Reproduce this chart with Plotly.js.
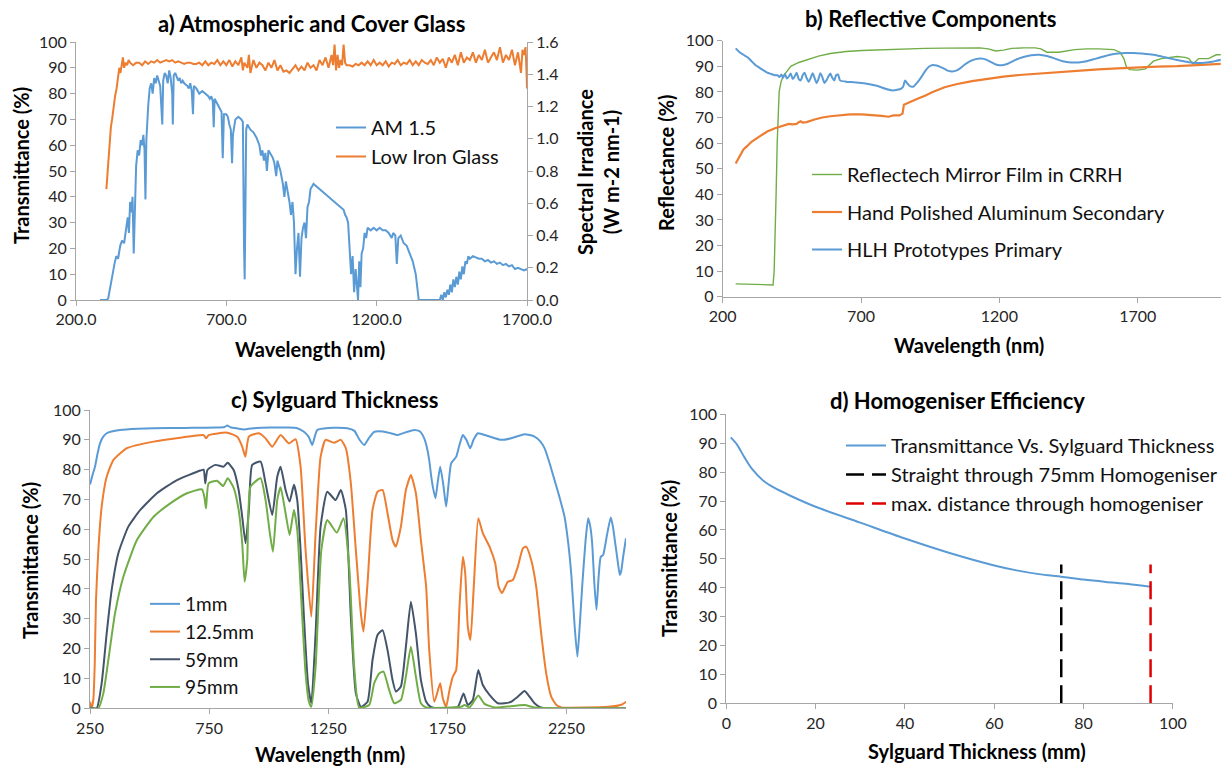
<!DOCTYPE html>
<html><head><meta charset="utf-8">
<script src="https://cdn.plot.ly/plotly-3.0.1.min.js"></script>
<style>html,body{margin:0;padding:0;background:#fff}#chart{width:1226px;height:767px}</style>
</head><body><div id="chart"></div>
<script>
// ---------- Panel a: Atmospheric and Cover Glass ----------
const amWavelength = [280,300,307,315,321,328,334,340,347,353,
360,366,372,376,380,385,388,392,396,400,
405,410,415,420,424,428,431,434,440,445,
450,455,460,465,470,475,480,487,490,495,
500,505,510,515,520,522,525,530,535,540,
545,550,555,560,570,575,580,585,589,592,
600,610,620,630,640,645,650,655,658,661,
670,680,684,688,692,700,705,710,715,719,
722,730,740,750,755,759,761,763,766,770,
780,790,800,810,815,820,825,830,835,840,
845,850,855,860,866,870,880,888,893,898,
905,910,915,920,925,930,935,940,945,950,
955,960,965,970,975,980,985,990,1000,1010,
1020,1030,1040,1050,1060,1070,1080,1090,1095,1100,
1105,1110,1115,1120,1125,1130,1135,1138,1142,1146,
1150,1155,1160,1165,1170,1180,1190,1200,1210,1220,
1230,1240,1250,1255,1262,1267,1272,1280,1290,1300,
1310,1320,1330,1336,1340,1345,1400,1410,1415,1420,
1425,1430,1435,1440,1445,1450,1455,1460,1465,1470,
1475,1480,1485,1490,1495,1500,1505,1510,1520,1530,
1540,1550,1560,1570,1580,1590,1600,1610,1620,1630,
1640,1650,1660,1670,1680,1690,1700];
const amIrradiance = [0,0,0.008,0.096,0.16,0.224,0.272,0.256,0.336,0.368,
0.352,0.448,0.512,0.416,0.608,0.544,0.64,0.288,0.64,0.832,
0.928,0.896,0.992,0.96,1.024,0.928,0.624,0.992,1.2,1.312,
1.344,1.28,1.376,1.344,1.392,1.36,1.328,1.088,1.36,1.408,
1.392,1.344,1.424,1.376,1.28,1.088,1.392,1.408,1.376,1.36,
1.376,1.344,1.36,1.344,1.328,1.312,1.344,1.296,1.152,1.328,
1.312,1.28,1.296,1.28,1.264,1.248,1.264,1.232,1.072,1.248,
1.216,1.184,1.168,0.88,1.152,1.152,1.136,1.088,1.056,0.848,
1.024,1.12,1.136,1.12,1.104,0.32,0.128,0.48,1.056,1.088,
1.056,1.04,1.008,0.96,0.896,0.928,0.864,0.912,0.8,0.928,
0.912,0.896,0.88,0.848,0.768,0.864,0.8,0.72,0.64,0.736,
0.672,0.608,0.528,0.608,0.48,0.16,0.32,0.416,0.144,0.384,
0.448,0.48,0.384,0.576,0.608,0.688,0.704,0.72,0.704,0.688,
0.672,0.656,0.64,0.624,0.608,0.592,0.576,0.56,0.528,0.512,
0.48,0.32,0.16,0.272,0.048,0.192,0.096,0,0.24,0.08,
0.288,0.32,0.416,0.384,0.448,0.432,0.448,0.432,0.448,0.432,
0.432,0.416,0.384,0.416,0.4,0.224,0.384,0.4,0.352,0.336,
0.288,0.24,0.16,0.08,0,0,0,0,0.032,0,
0.048,0.016,0.064,0.032,0.096,0.048,0.128,0.08,0.144,0.096,
0.176,0.128,0.208,0.16,0.24,0.224,0.272,0.256,0.272,0.264,
0.256,0.256,0.24,0.248,0.232,0.24,0.224,0.232,0.216,0.224,
0.208,0.216,0.192,0.2,0.192,0.184,0.192];

const glassWavelength = [301,305,308,312,316,320,325,330,335,340,
344,348,352,356,360,365,370,375,380,390,
400,410,420,430,440,450,460,470,480,490,
500,510,520,530,540,550,560,570,580,590,
600,610,620,630,640,650,660,670,680,690,
700,710,720,730,740,750,755,760,770,775,
780,790,800,810,820,830,840,850,860,870,
880,890,900,910,920,930,940,950,960,970,
980,990,1000,1010,1020,1030,1040,1050,1055,1060,
1065,1070,1075,1080,1085,1090,1095,1100,1110,1120,
1130,1140,1150,1160,1170,1180,1190,1200,1210,1220,
1230,1240,1250,1260,1270,1280,1290,1300,1310,1320,
1330,1340,1350,1360,1370,1380,1390,1400,1410,1420,
1430,1440,1450,1460,1470,1480,1490,1500,1510,1520,
1530,1540,1550,1560,1570,1580,1590,1600,1610,1620,
1630,1640,1650,1660,1670,1680,1685,1690,1695,1698,
1700];
const glassTransmittance = [43,50,51,60,67,70,75,79,82,88,
90,88,92,94,90,92,91,93,92,91,
92,92,91,92.5,91.5,92.5,92,93,92,92.5,
93,92.5,93,92,92.5,92,91.5,92,92,91.5,
91.5,92,91,92.5,91,92,91.5,93,91,92.5,
91,93,90.5,92.5,91,94,89,92,90,95,
88,93,90,92,91,89,92,90,93,89,
91,88.5,89,88,89.5,91,89,90.5,89,92,
90,91,89,93,91,94,90,95,91,99,
89,95,90,93,91,99,92,91,91,90.5,
91.5,91,92,91,92.5,91,93,91,92,91,
92.5,90.5,92,91.5,93,91,92,91.5,93,91,
92.5,91,93,92,91.5,93,91,94,92,93.5,
90,94,92,95,91,96,92,94,93,96,
92,95,93,97,92,94,96,93,98,92,
95,93,97,91,96,88,97,95,98,90,
82];

// ---------- Panel b: Reflective Components ----------
const mirrorWavelength = [247,275,304,332,361,375,382,386,389,393,
397,400,404,411,418,432,446,475,503,546,
589,646,703,774,845,888,931,1002,1073,1130,
1160,1187,1215,1244,1287,1330,1350,1372,1415,1443,
1472,1515,1557,1614,1636,1650,1660,1671,1700,1728,
1743,1757,1785,1814,1842,1871,1885,1892,1899,1906,
1920,1935,1956,1970,1984,2006];
const mirrorReflectance = [5,4.9,4.8,4.7,4.6,4.6,4.6,10,20,40,
60,72,80,84,86,88,90,91.5,92.5,94,
95,95.8,96.2,96.5,96.8,96.8,97,97.1,97.2,97.2,
96.8,96,96.3,97,97.2,97.2,96.8,95.5,95.5,96,
96.5,96.8,96.8,96.5,95.5,93,89.5,88.7,88.5,89,
90.5,92,93,93.5,93.8,93.5,93,92,91,91.5,
93,93,93,93.8,94.5,94.5];

const aluminumWavelength = [247,261,275,290,304,332,361,389,418,439,
453,467,475,482,489,503,532,560,589,617,
660,703,746,774,800,817,838,850,855,874,
902,931,959,1002,1044,1101,1158,1215,1272,1344,
1415,1486,1557,1628,1700,1771,1842,1913,1970,2006];
const aluminumReflectance = [52,55,57.5,59,60.5,62.5,64.5,65.8,66.8,67.5,
67.3,67.5,68.2,68.5,68,68.2,69.2,70,70.5,70.8,
71.2,71.2,71,70.6,70.3,70.8,70.8,71.5,75,76,
77.2,78.5,80,81.8,83,84.2,85.2,86,86.6,87.2,
87.8,88.3,88.8,89.2,89.6,89.9,90.1,90.5,90.8,91];

const hlhWavelength = [247,261,275,290,304,318,332,346,361,375,
389,398,405,412,418,425,432,439,446,453,
460,467,475,482,489,496,503,511,518,525,
532,539,546,553,560,568,575,582,589,596,
603,610,617,624,646,674,703,731,760,788,
810,831,845,852,859,866,874,888,902,916,
931,945,959,973,988,1002,1016,1030,1044,1058,
1073,1087,1101,1115,1130,1144,1158,1172,1187,1201,
1215,1230,1258,1287,1315,1344,1372,1401,1429,1458,
1486,1515,1543,1572,1600,1628,1657,1685,1714,1742,
1771,1799,1828,1856,1885,1913,1942,1970,1985,2006];
const hlhReflectance = [97,95.5,94.5,93.5,92,90.5,89.5,88.5,87.5,87,
86.5,86.5,85.8,86.8,85.5,87,85.2,86,87.2,85,
86,87.5,85,84.5,86.5,87.5,85.5,84,85.5,87.3,
85.5,83.5,85,87.3,85.8,83.5,84.5,86,87.2,85.5,
84.5,86.5,86.8,84.5,84,83.8,83.5,83,82.3,81.2,
80.6,80.8,81.3,82,84.5,83.5,82.5,82,83.5,85.5,
88,89.8,90.5,90.3,89.7,89,88.2,88,88.3,89.2,
90.5,91.5,92.3,92.8,93,92.9,92.3,91.5,90.7,90.4,
90.5,91,92.5,93.6,94.3,94.5,94,93,92,91.5,
91.5,92,92.8,93.7,94.5,95,95.2,95.2,95,94.7,
94.2,93.5,92.8,92.2,91.6,91.3,91.4,91.8,92.2,92.6];

// ---------- Panel c: Sylguard Thickness ----------
const wl1mm = [250,260,271,282,292,305,320,340,376,450,
517,650,780,815,826,840,870,896,950,1008,
1080,1120,1148,1168,1183,1195,1204,1250,1330,1360,
1380,1401,1420,1443,1480,1513,1541,1575,1611,1635,
1653,1664,1674,1682,1689,1700,1710,1720,1733,1745,
1755,1766,1787,1800,1815,1830,1846,1860,1878,1920,
1976,2018,2074,2116,2140,2158,2180,2200,2220,2242,
2258,2271,2284,2296,2306,2316,2330,2341,2350,2358,
2367,2376,2385,2394,2404,2420,2436,2445,2453,2464,
2474,2480,2488,2500];
const t1mm = [75,78,81,85.5,88.8,91,92.2,92.8,93.3,93.7,
93.9,94,94.1,94.3,94.8,94.2,93.8,93.5,94,94.1,
94.1,93.9,92.7,91,88.3,91.5,93.3,94,93.9,93,
90.2,88.3,90.5,92.7,92.8,92.2,91.6,92.5,93.3,92.8,
90.5,87.5,83.2,78,74.3,70.4,76,81,75,67.6,
75,82.1,84.3,88,91.6,90,87.2,90,92.2,91.3,
90,90.5,91.9,91.1,89.5,87.2,82,76.5,71,64.2,
55,44.1,28,17.3,28,40.8,56,63.7,61,55.3,
42,33,44,50.8,51.4,58,64,61,56.4,50,
44.7,46,50.8,57];

const wl12mm = [250,257,264,270,275,285,299,320,348,405,
517,629,727,737,748,826,868,889,902,917,
959,987,1015,1050,1085,1113,1134,1155,1179,1197,
1218,1239,1274,1303,1324,1345,1366,1387,1398,1415,
1436,1457,1478,1499,1520,1534,1555,1576,1597,1618,
1639,1661,1674,1695,1707,1720,1731,1745,1759,1773,
1787,1801,1815,1825,1836,1847,1861,1880,1899,1927,
1951,1965,1979,2004,2025,2046,2067,2081,2102,2123,
2144,2165,2186,2208,2229,2425,2481,2500];
const t12mm = [2.2,0,3,15,36,53,67.6,77.6,83.2,87.2,
89.4,90.7,91.6,90.5,91.6,92.4,91,87.7,84.3,91.1,
92.2,90.5,87.7,91.6,88.8,90.2,81,53,30.7,58.7,
84.3,90,89,90,87.2,75.4,53,31.8,25.7,41.9,
66.5,72.6,73.2,65.4,56.4,54.2,60.9,73.2,78.2,72.1,
56.4,40.8,19.5,2.2,5,8.4,3.4,0.5,6.1,10.6,
12.8,34,50.8,45.3,27.4,22.9,40.8,63.7,58.7,54.2,
48.6,40.8,38.6,42.4,43,47.5,53.6,54.2,49.7,40.8,
25.1,11.7,3.9,1.1,0.3,0.5,1.2,2.2];

const wl59mm = [250,278,299,320,341,369,411,461,531,615,
713,727,734,743,776,811,828,853,874,889,
903,917,931,966,987,1015,1036,1050,1071,1088,
1106,1120,1134,1148,1165,1179,1197,1218,1246,1281,
1303,1324,1345,1366,1387,1415,1436,1457,1478,1499,
1520,1534,1555,1576,1597,1618,1639,1661,1681,1723,
1794,1818,1836,1857,1880,1899,1927,1962,1990,2018,
2046,2074,2095,2116,2137,2158,2500];
const t59mm = [0.3,0,8.4,25.1,39.7,52,60.9,66.5,72.1,76.5,
79.7,80,75.4,79.9,81.6,81,82.3,79.9,73.2,64.2,
55.3,66.5,81.6,82.7,75.4,64.8,77.6,81,73.2,69.3,
74.9,69.8,53,30.7,8.4,1.7,25.1,60.9,72.6,69.8,
73.2,66.5,30.7,5,0.5,2.2,16.2,24.6,26.2,19.5,
9.5,5.6,7.3,20.6,35.7,25.1,9.5,2.2,0.5,0,
0.5,5,1.1,2.8,12.8,7.8,4.5,1.7,1.7,2.2,
3.9,5.8,3.9,1.7,0.5,0,0];

const wl95mm = [250,285,306,327,355,390,447,517,587,657,
720,730,737,748,783,809,828,853,874,889,
899,910,924,966,987,1005,1018,1036,1050,1071,
1088,1106,1120,1137,1155,1169,1179,1197,1221,1246,
1286,1314,1338,1359,1380,1422,1443,1464,1482,1506,
1527,1555,1576,1597,1618,1639,1661,1808,1822,1843,
1880,1906,1948,2074,2116,2500];
const t95mm = [0,0,5,16.2,31.8,44.1,56.4,64.2,68.7,72.1,
73.4,70.9,67,75.4,76.3,74.5,77.1,73.9,66.5,55.3,
42.4,49.7,74.3,77.1,69.8,58.7,52.5,69.8,74.1,65.4,
58.1,66.5,59.8,36.3,11.7,2.2,0.5,13.9,53,63.1,
58.9,63.7,47.5,13.9,0.3,1.1,8.4,11.7,12.3,6.1,
1.7,2.8,10.6,20.6,10.6,1.7,0.3,0.5,1.1,0.3,
4.3,1.5,0.3,1.1,0.3,0];

// ---------- Panel d: Homogeniser Efficiency ----------
const thicknessMm = [1,2.4,4.1,5.8,8.3,10.8,14.1,20,30,40,50,60,65,70,75,80,85,90,95];
const thicknessTransmittance = [92,89.5,85,81,77,74.5,72,68,62.5,57,52,47.7,46,44.7,43.8,42.8,42,41.3,40.3];
const straightX = [75,75];
const straightY = [0,48];
const maxDistX = [95,95];
const maxDistY = [0,48];

// ---------- Labels ----------
const panelTitles = ['a) Atmospheric and Cover Glass','b) Reflective Components','c) Sylguard Thickness','d) Homogeniser Efficiency'];
const seriesNames = {am:'AM 1.5', glass:'Low Iron Glass', mirror:'Reflectech Mirror Film in CRRH',
  alu:'Hand Polished Aluminum Secondary', hlh:'HLH Prototypes Primary',
  s1:'1mm', s12:'12.5mm', s59:'59mm', s95:'95mm',
  dT:'Transmittance Vs. Sylguard Thickness', dS:'Straight through 75mm Homogeniser', dM:'max. distance through homogeniser'};

// ---------- Layout helpers ----------
const W = 1226, H = 767;
const fx = p => p / W;
const fy = p => 1 - p / H;
const FONT = 'Lato, "Open Sans", sans-serif';
const BLUE = '#5b9bd5', ORANGE = '#ed7d31', GREEN = '#70ad47', SLATE = '#44546a';

const axisBase = {
  showline: true, linecolor: '#a6a6a6', linewidth: 1, mirror: false,
  ticks: 'outside', ticklen: 5, tickcolor: '#a6a6a6', tickwidth: 1,
  showgrid: false, zeroline: false, fixedrange: true,
  tickfont: {family: FONT, size: 16, color: '#262626'}
};
const ax = o => Object.assign({}, axisBase, o);

const traces = [
  {x: amWavelength, y: amIrradiance, name: seriesNames.am, xaxis: 'x', yaxis: 'y5', mode: 'lines',
   line: {color: BLUE, width: 2}, legend: 'legend', legendgroup: 'a1'},
  {x: glassWavelength, y: glassTransmittance, name: seriesNames.glass, xaxis: 'x', yaxis: 'y', mode: 'lines',
   line: {color: ORANGE, width: 2}, legend: 'legend', legendgroup: 'a2'},

  {x: mirrorWavelength, y: mirrorReflectance, name: seriesNames.mirror, xaxis: 'x2', yaxis: 'y2', mode: 'lines',
   line: {color: GREEN, width: 1.4}, legend: 'legend2', legendgroup: 'b1'},
  {x: aluminumWavelength, y: aluminumReflectance, name: seriesNames.alu, xaxis: 'x2', yaxis: 'y2', mode: 'lines',
   line: {color: ORANGE, width: 2.2}, legend: 'legend2', legendgroup: 'b2'},
  {x: hlhWavelength, y: hlhReflectance, name: seriesNames.hlh, xaxis: 'x2', yaxis: 'y2', mode: 'lines',
   line: {color: BLUE, width: 2, shape: 'spline', smoothing: 0.6}, legend: 'legend2', legendgroup: 'b3'},

  {x: wl1mm, y: t1mm, name: seriesNames.s1, xaxis: 'x3', yaxis: 'y3', mode: 'lines',
   line: {color: BLUE, width: 2, shape: 'spline', smoothing: 0.5}, legend: 'legend3', legendgroup: 'c1'},
  {x: wl12mm, y: t12mm, name: seriesNames.s12, xaxis: 'x3', yaxis: 'y3', mode: 'lines',
   line: {color: ORANGE, width: 2, shape: 'spline', smoothing: 0.5}, legend: 'legend3', legendgroup: 'c2'},
  {x: wl59mm, y: t59mm, name: seriesNames.s59, xaxis: 'x3', yaxis: 'y3', mode: 'lines',
   line: {color: SLATE, width: 2, shape: 'spline', smoothing: 0.5}, legend: 'legend3', legendgroup: 'c3'},
  {x: wl95mm, y: t95mm, name: seriesNames.s95, xaxis: 'x3', yaxis: 'y3', mode: 'lines',
   line: {color: GREEN, width: 2, shape: 'spline', smoothing: 0.5}, legend: 'legend3', legendgroup: 'c4'},

  {x: thicknessMm, y: thicknessTransmittance, name: seriesNames.dT, xaxis: 'x4', yaxis: 'y4', mode: 'lines',
   line: {color: BLUE, width: 2, shape: 'spline', smoothing: 0.8}, legend: 'legend4', legendgroup: 'd1'},
  {x: straightX, y: straightY, name: seriesNames.dS, xaxis: 'x4', yaxis: 'y4', mode: 'lines',
   line: {color: '#000000', width: 2.5, dash: '18px,8px'}, legend: 'legend4', legendgroup: 'd2'},
  {x: maxDistX, y: maxDistY, name: seriesNames.dM, xaxis: 'x4', yaxis: 'y4', mode: 'lines',
   line: {color: '#e00000', width: 2.5, dash: '18px,8px'}, legend: 'legend4', legendgroup: 'd3'}
];

const legBase = {
  xanchor: 'left', yanchor: 'top', xref: 'paper', yref: 'paper',
  bgcolor: 'rgba(0,0,0,0)', borderwidth: 0, traceorder: 'grouped',
  font: {family: FONT, size: 20, color: '#111'}, itemwidth: 30, itemclick: false, itemdoubleclick: false
};
const leg = o => Object.assign({}, legBase, o);

const annBase = {xref: 'paper', yref: 'paper', showarrow: false, xanchor: 'center', yanchor: 'middle'};
const titleFont = {family: FONT, size: 22, color: '#000'};
const axTitleFont = {family: FONT, size: 20, color: '#000'};
const ann = (text, px, py, font, angle) => Object.assign({}, annBase,
  {text: '<b>' + text + '</b>', x: fx(px), y: fy(py), font: font, textangle: angle || 0});

const layout = {
  width: W, height: H, margin: {l: 0, r: 0, t: 0, b: 0},
  paper_bgcolor: '#ffffff', plot_bgcolor: 'rgba(0,0,0,0)', showlegend: true, hovermode: false,
  xaxis: ax({domain: [fx(76), fx(527)], range: [200, 1700], tickvals: [200, 700, 1200, 1700], tickformat: '.1f', anchor: 'y'}),
  yaxis: ax({domain: [fy(300), fy(42)], range: [0, 100], dtick: 10, anchor: 'x'}),
  yaxis5: ax({overlaying: 'y', side: 'right', anchor: 'x', range: [0, 1.6], dtick: 0.2, tickformat: '.1f'}),
  xaxis2: ax({domain: [fx(722.7), fx(1220.7)], range: [200, 2000], tickvals: [200, 700, 1200, 1700], anchor: 'y2'}),
  yaxis2: ax({domain: [fy(296.7), fy(40.7)], range: [0, 100], dtick: 10, anchor: 'x2'}),
  xaxis3: ax({domain: [fx(90), fx(626)], range: [250, 2500], tickvals: [250, 750, 1250, 1750, 2250], anchor: 'y3'}),
  yaxis3: ax({domain: [fy(708.3), fy(410)], range: [0, 100], dtick: 10, anchor: 'x3'}),
  xaxis4: ax({domain: [fx(726.3), fx(1172.9)], range: [0, 100], dtick: 20, anchor: 'y4'}),
  yaxis4: ax({domain: [fy(703.3), fy(414.3)], range: [0, 100], dtick: 10, anchor: 'x4'}),
  legend: leg({x: fx(331), y: fy(108), tracegroupgap: 0}),
  legend2: leg({x: fx(807), y: fy(155), tracegroupgap: 8.5}),
  legend3: leg({x: fx(145), y: fy(585), tracegroupgap: 0, font: {family: FONT, size: 19, color: '#111'}}),
  legend4: leg({x: fx(841), y: fy(426), tracegroupgap: 0, itemwidth: 40}),
  annotations: [
    ann(panelTitles[0], 311, 24, titleFont),
    ann(panelTitles[1], 930, 18, titleFont),
    ann(panelTitles[2], 334, 399, titleFont),
    ann(panelTitles[3], 957, 400, titleFont),
    ann('Wavelength (nm)', 310, 349, axTitleFont),
    ann('Transmittance (%)', 21, 166, axTitleFont, -90),
    ann('Spectral Irradiance<br>(W m-2 nm-1)', 598, 172, axTitleFont, -90),
    ann('Reflectance (%)', 666, 163, axTitleFont, -90),
    ann('Wavelength (nm)', 969, 345, axTitleFont),
    ann('Wavelength (nm)', 330, 754, axTitleFont),
    ann('Transmittance (%)', 30, 561, axTitleFont, -90),
    ann('Transmittance (%)', 669, 559, axTitleFont, -90),
    ann('Sylguard Thickness (mm)', 977, 751, axTitleFont)
  ]
};

Plotly.newPlot('chart', traces, layout, {displayModeBar: false, staticPlot: true});
</script></body></html>
